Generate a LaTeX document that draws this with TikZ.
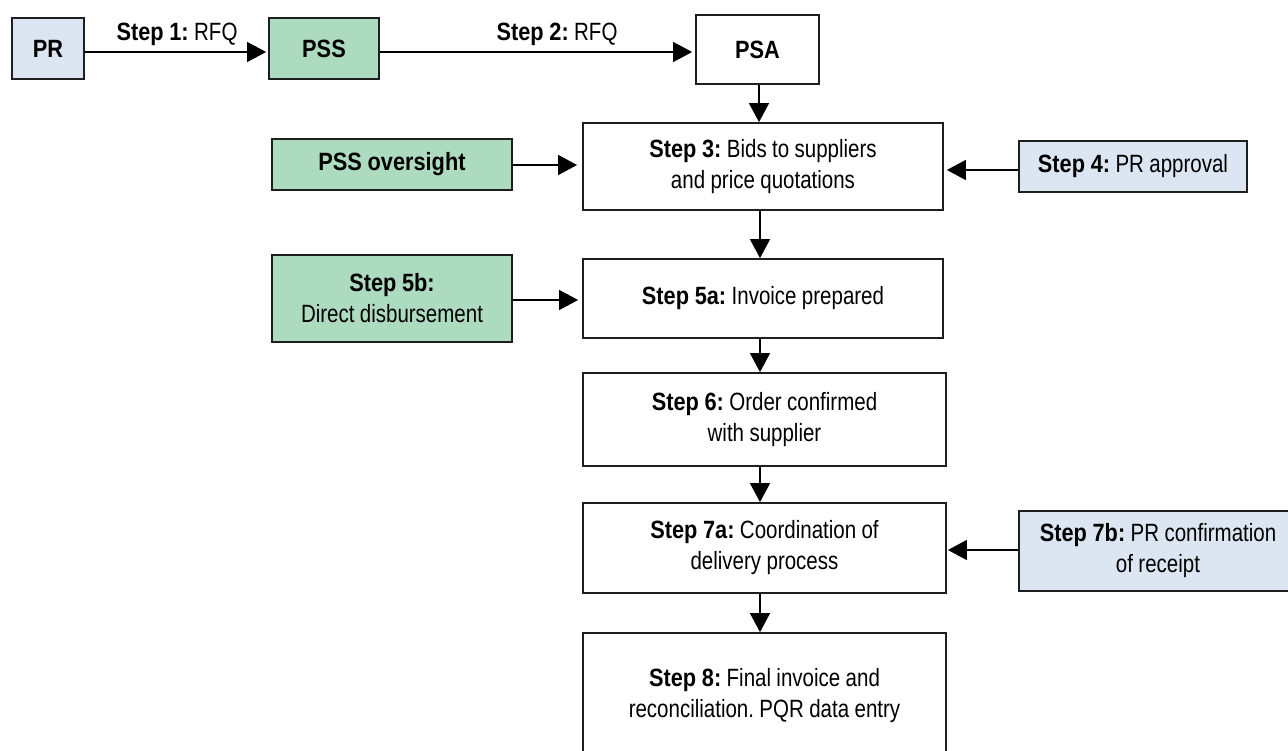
\documentclass[tikz,border=0pt]{standalone}
\usepackage{fontspec}
\setmainfont{Liberation Sans}[FakeStretch=0.82, WordSpace=0.95,
  BoldFeatures={FakeStretch=0.87}]
\frenchspacing
\usetikzlibrary{arrows.meta}
\definecolor{prblue}{RGB}{220,230,242}
\definecolor{pssgreen}{RGB}{173,219,192}
\definecolor{edge}{RGB}{30,30,30}
\begin{document}
\begin{tikzpicture}[x=1pt,y=-1pt,
  box/.style={draw=edge, line width=1.8pt, rectangle, inner sep=0pt,
    align=center, font=\fontsize{25}{31}\selectfont},
  bluebox/.style={box, fill=prblue},
  greenbox/.style={box, fill=pssgreen},
  whitebox/.style={box, fill=white},
  lbl/.style={inner sep=0pt, font=\fontsize{25}{31}\selectfont},
  arr/.style={draw=black, line width=1.5pt,
    -{Triangle[length=19pt,width=20pt]}}]
\useasboundingbox (0,0) rectangle (1288,750);
\clip (0,0) rectangle (1288,750);

% top row
\node[bluebox, minimum width=72pt, minimum height=61pt] (pr) at (48,48.5) {\textbf{PR}};
\node[greenbox, minimum width=110pt, minimum height=61pt] (pss) at (324,48.5) {\textbf{PSS}};
\node[whitebox, minimum width=123pt, minimum height=69pt] (psa) at (757.5,49.5) {\textbf{PSA}};
\node[lbl] (l1) at (177,34) {\textbf{Step 1:} RFQ};
\node[lbl] (l2) at (557,34) {\textbf{Step 2:} RFQ};

% main column
\node[whitebox, minimum width=360pt, minimum height=87pt] (s3) at (763,166.5)
  {\textbf{Step 3:} Bids to suppliers\\and price quotations};
\node[whitebox, minimum width=360pt, minimum height=79pt] (s5a) at (763,298.5)
  {\textbf{Step 5a:} Invoice prepared};
\node[whitebox, minimum width=363pt, minimum height=93pt] (s6) at (764.5,419.5)
  {\textbf{Step 6:} Order confirmed\\with supplier};
\node[whitebox, minimum width=363pt, minimum height=90pt] (s7a) at (764.5,548)
  {\textbf{Step 7a:} Coordination of\\delivery process};
\node[whitebox, minimum width=363pt, minimum height=126pt] (s8) at (764.5,696)
  {\textbf{Step 8:} Final invoice and\\reconciliation. PQR data entry};

% side inputs
\node[greenbox, minimum width=240pt, minimum height=51pt] (ov) at (392,164.5)
  {\textbf{PSS oversight}};
\node[greenbox, minimum width=240pt, minimum height=87pt] (s5b) at (392,298.5)
  {\textbf{Step 5b:}\\Direct disbursement};
\node[bluebox, minimum width=228pt, minimum height=51pt] (s4) at (1133,166.5)
  {\textbf{Step 4:} PR approval};
\node[bluebox, minimum width=278pt, minimum height=80pt] (s7b) at (1158,551)
  {\textbf{Step 7b:} PR confirmation\\of receipt};

% connectors
\draw[arr, shorten >=2pt] ([yshift=-3.5pt]pr.east) -- ([yshift=-3.5pt]pr.east -| pss.west);
\draw[arr, shorten >=3pt] ([yshift=-3.5pt]pss.east) -- ([yshift=-3.5pt]pss.east -| psa.west);
\draw[arr] ([xshift=1.5pt]psa.south) -- ([xshift=1.5pt]psa.south |- s3.north);
\draw[arr] ([xshift=-3pt]s3.south) -- ([xshift=-3pt]s3.south |- s5a.north);
\draw[arr] ([xshift=-3pt]s5a.south) -- ([xshift=-3pt]s5a.south |- s6.north);
\draw[arr] ([xshift=-4.5pt]s6.south) -- ([xshift=-4.5pt]s6.south |- s7a.north);
\draw[arr] ([xshift=-4.5pt]s7a.south) -- ([xshift=-4.5pt]s7a.south |- s8.north);
\draw[arr, shorten >=5pt] ([yshift=-0.5pt]ov.east) -- ([yshift=-0.5pt]ov.east -| s3.west);
\draw[arr, shorten >=4pt] ([yshift=-1.5pt]s5b.east) -- ([yshift=-1.5pt]s5b.east -| s5a.west);
\draw[arr, shorten >=3pt] ([yshift=-3.5pt]s4.west) -- ([yshift=-3.5pt]s4.west -| s3.east);
\draw[arr, shorten >=1pt] ([yshift=1pt]s7b.west) -- ([yshift=1pt]s7b.west -| s7a.east);
\end{tikzpicture}
\end{document}
